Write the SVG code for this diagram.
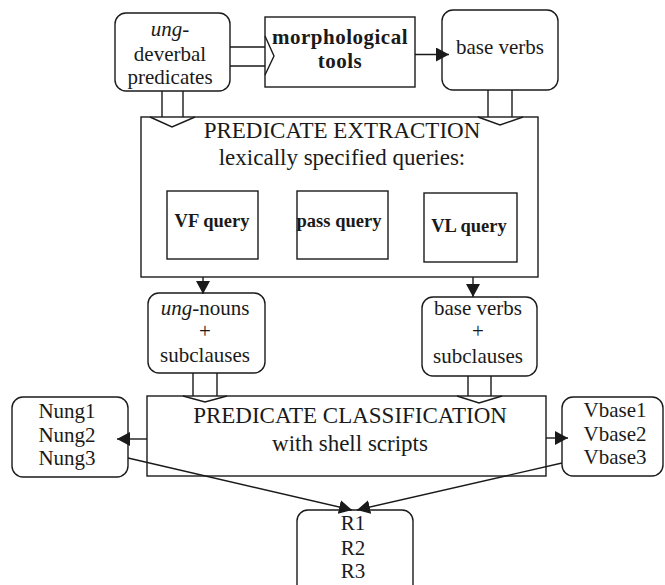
<svg xmlns="http://www.w3.org/2000/svg" width="665" height="585" viewBox="0 0 665 585">
<style>
.n{fill:#fff;stroke:#1a1a1a;stroke-width:1.4}
.t{font-family:"Liberation Serif","Times New Roman",serif;font-size:21px;fill:#1a1a1a;text-anchor:middle}
.big{font-size:23px}
.b{font-weight:bold;font-size:18.5px}
.c{fill:none;stroke:#1a1a1a;stroke-width:1.4}
</style>
<defs>
<marker id="ah" markerUnits="userSpaceOnUse" markerWidth="14" markerHeight="14" refX="13" refY="7" orient="auto">
<path d="M0,0 L13,7 L0,14 z" fill="#1a1a1a"/>
</marker>
</defs>
<rect width="665" height="585" fill="#fff"/>
<g id="ung-deverbal">
<rect class="n" x="115" y="13" width="115" height="78" rx="11"/>
<text class="t" x="170" y="36"><tspan font-style="italic">ung</tspan>-</text>
<text class="t" x="170" y="61">deverbal</text>
<text class="t" x="170" y="84">predicates</text>
</g>
<g id="morph">
<rect class="n" x="265" y="17" width="150" height="70"/>
<text class="t" x="340" y="44" font-weight="bold" letter-spacing="0.5">morphological</text>
<text class="t" x="340" y="68" font-weight="bold" letter-spacing="0.5">tools</text>
</g>
<g id="base-verbs">
<rect class="n" x="442" y="10" width="116" height="80" rx="11"/>
<text class="t" x="500" y="54">base verbs</text>
</g>
<g id="extraction">
<rect class="n" x="141" y="117" width="397" height="160"/>
<text class="t big" x="342" y="138">PREDICATE EXTRACTION</text>
<text class="t big" x="342" y="165">lexically specified queries:</text>
</g>
<g id="vf-query">
<rect class="n" x="167" y="191" width="91" height="68"/>
<text class="t b" x="212" y="227">VF query</text>
</g>
<g id="pass-query">
<rect class="n" x="297" y="191" width="91" height="68"/>
<text class="t b" x="339" y="227">pass query</text>
</g>
<g id="vl-query">
<rect class="n" x="424" y="193" width="93" height="69"/>
<text class="t b" x="469" y="232">VL query</text>
</g>
<g id="ung-nouns">
<rect class="n" x="148" y="293" width="117" height="80" rx="11"/>
<text class="t" x="205" y="315"><tspan font-style="italic">ung</tspan>-nouns</text>
<text class="t" x="205" y="338">+</text>
<text class="t" x="205" y="362">subclauses</text>
</g>
<g id="base-verbs-sub">
<rect class="n" x="422" y="297" width="115" height="79" rx="11"/>
<text class="t" x="478" y="315">base verbs</text>
<text class="t" x="478" y="338">+</text>
<text class="t" x="478" y="363">subclauses</text>
</g>
<g id="classification">
<rect class="n" x="147" y="396" width="399" height="80"/>
<text class="t big" x="350" y="423">PREDICATE CLASSIFICATION</text>
<text class="t big" x="350" y="451">with shell scripts</text>
</g>
<g id="nung">
<rect class="n" x="12" y="397" width="116" height="80" rx="11"/>
<text class="t" x="67" y="418">Nung1</text>
<text class="t" x="67" y="442">Nung2</text>
<text class="t" x="67" y="465">Nung3</text>
</g>
<g id="vbase">
<rect class="n" x="562" y="397" width="101" height="79" rx="11"/>
<text class="t" x="615" y="417">Vbase1</text>
<text class="t" x="615" y="441">Vbase2</text>
<text class="t" x="615" y="464">Vbase3</text>
</g>
<g id="r">
<rect class="n" x="297" y="510" width="116" height="88" rx="11"/>
<text class="t" x="353" y="530">R1</text>
<text class="t" x="353" y="555">R2</text>
<text class="t" x="353" y="578">R3</text>
</g>
<g id="connectors">
<path class="c" d="M230,47 H265 M230,66 H265 M265,36 L274,56 L265,75"/>
<path class="c" d="M162,91 V117 M183,91 V117 M150,117 L172,127 L195,117"/>
<path class="c" d="M488,90 V117 M512,90 V117 M478,117 L500,125 L523,117"/>
<path class="c" d="M193,373 V396 M217,373 V396 M183,396 L205,402 L227,396"/>
<path class="c" d="M468,376 V396 M491,376 V396 M457,396 L479,403 L502,396"/>
<path class="c" d="M415,54.5 H449" marker-end="url(#ah)"/>
<path class="c" d="M203,277 V294" marker-end="url(#ah)"/>
<path class="c" d="M473,277 V297" marker-end="url(#ah)"/>
<path class="c" d="M147,439 H117" marker-end="url(#ah)"/>
<path class="c" d="M546,438 H568" marker-end="url(#ah)"/>
<path class="c" d="M128,458 L352,510" marker-end="url(#ah)"/>
<path class="c" d="M562,463 L357,510" marker-end="url(#ah)"/>
</g>
</svg>
